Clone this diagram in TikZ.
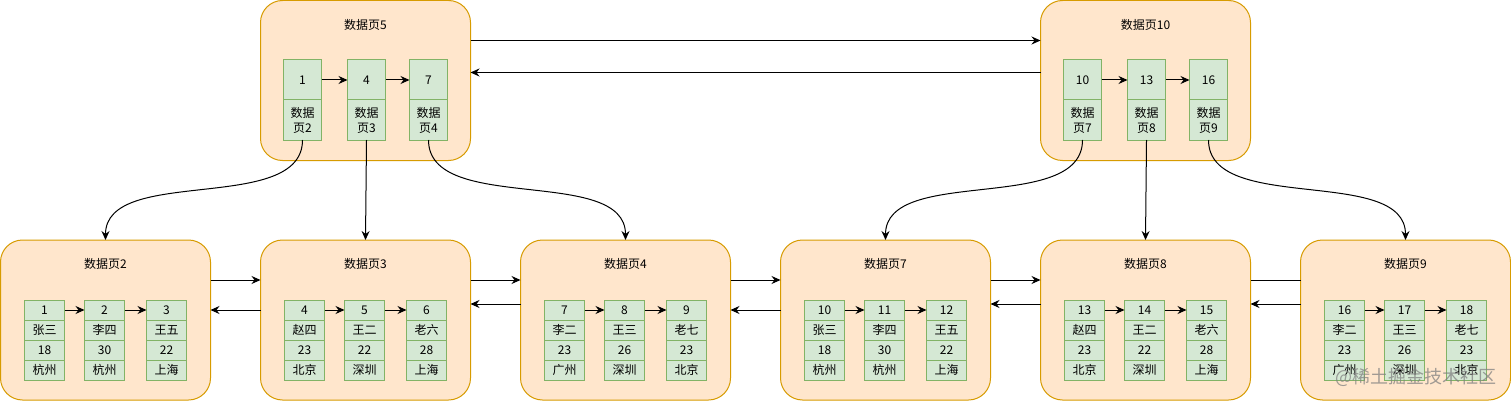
\documentclass[tikz,border=0pt]{standalone}
\usepackage{fontspec}
\setmainfont{Noto Sans CJK SC}
\usetikzlibrary{arrows.meta}
\definecolor{pagefill}{HTML}{FFE6CC}
\definecolor{pagedraw}{HTML}{D79B00}
\definecolor{cellfill}{HTML}{D5E8D4}
\definecolor{celldraw}{HTML}{82B366}
\tikzset{
  pagebox/.style={draw=pagedraw, fill=pagefill, line width=1pt, rounded corners=22pt,
    minimum width=210pt, minimum height=160pt, inner sep=0pt, outer sep=0pt, anchor=north west},
  bcellbox/.style={draw=celldraw, fill=cellfill, line width=1pt, minimum width=40pt,
    minimum height=20pt, inner sep=0pt, outer sep=0pt, anchor=north west,
    font=\fontsize{12}{14}\selectfont},
  tcellbox/.style={bcellbox, minimum width=38pt, minimum height=40pt, align=center,
    font=\fontsize{12}{15}\selectfont},
  titlebox/.style={font=\fontsize{12}{14}\selectfont, inner sep=0pt},
  arr/.style={draw=black, line width=1pt, -{Stealth[length=9pt,width=8pt,inset=3pt]}},
  plainline/.style={draw=black, line width=1pt},
  markbox/.style={font=\fontsize{18}{20}\selectfont, text=black!50, opacity=0.75, inner sep=0pt},
}
\newcommand\mkbcell[6]{%
  \node[bcellbox] (#1a) at (#2,300) {#3};
  \node[bcellbox] (#1b) at (#2,320) {#4};
  \node[bcellbox] (#1c) at (#2,340) {#5};
  \node[bcellbox] (#1d) at (#2,360) {#6};
}
\newcommand\mktcell[4]{%
  \node[tcellbox] (#1a) at (#2,60) {#3};
  \node[tcellbox] (#1b) at (#2,100) {数据\\页#4};
}
\begin{document}
\begin{tikzpicture}[x=1pt,y=-1pt]
\useasboundingbox (0,0) rectangle (1511,401);
% pages
\node[pagebox] (p5) at (260.5,0.5) {};
\node[pagebox] (p10) at (1040.5,0.5) {};
\node[pagebox] (p2) at (0.5,240) {};
\node[pagebox] (p3) at (260.5,240) {};
\node[pagebox] (p4) at (520.5,240) {};
\node[pagebox] (p7) at (780.5,240) {};
\node[pagebox] (p8) at (1040.5,240) {};
\node[pagebox] (p9) at (1300.5,240) {};
% titles
\node[titlebox] (t5) at (365.5,25) {数据页5};
\node[titlebox] (t10) at (1145.5,25) {数据页10};
\node[titlebox] (t2) at (105.5,264) {数据页2};
\node[titlebox] (t3) at (365.5,264) {数据页3};
\node[titlebox] (t4) at (625.5,264) {数据页4};
\node[titlebox] (t7) at (885.5,264) {数据页7};
\node[titlebox] (t8) at (1145.5,264) {数据页8};
\node[titlebox] (t9) at (1405.5,264) {数据页9};
% top cells
\mktcell{u1}{283.5}{1}{2}
\mktcell{u2}{347.5}{4}{3}
\mktcell{u3}{409.5}{7}{4}
\mktcell{v1}{1063.5}{10}{7}
\mktcell{v2}{1127.5}{13}{8}
\mktcell{v3}{1189.5}{16}{9}
% bottom cells
\mkbcell{b1}{24.5}{1}{张三}{18}{杭州}
\mkbcell{b2}{84.5}{2}{李四}{30}{杭州}
\mkbcell{b3}{146.5}{3}{王五}{22}{上海}
\mkbcell{b4}{284.5}{4}{赵四}{23}{北京}
\mkbcell{b5}{344.5}{5}{王二}{22}{深圳}
\mkbcell{b6}{406.5}{6}{老六}{28}{上海}
\mkbcell{b7}{544.5}{7}{李二}{23}{广州}
\mkbcell{b8}{604.5}{8}{王三}{26}{深圳}
\mkbcell{b9}{666.5}{9}{老七}{23}{北京}
\mkbcell{b10}{804.5}{10}{张三}{18}{杭州}
\mkbcell{b11}{864.5}{11}{李四}{30}{杭州}
\mkbcell{b12}{926.5}{12}{王五}{22}{上海}
\mkbcell{b13}{1064.5}{13}{赵四}{23}{北京}
\mkbcell{b14}{1124.5}{14}{王二}{22}{深圳}
\mkbcell{b15}{1186.5}{15}{老六}{28}{上海}
\mkbcell{b16}{1324.5}{16}{李二}{23}{广州}
\mkbcell{b17}{1384.5}{17}{王三}{26}{深圳}
\mkbcell{b18}{1446.5}{18}{老七}{23}{北京}
% key arrows inside pages
\draw[arr] (u1a.east) -- (u2a.west);
\draw[arr] (u2a.east) -- (u3a.west);
\draw[arr] (v1a.east) -- (v2a.west);
\draw[arr] (v2a.east) -- (v3a.west);
\draw[arr] (b1a.east) -- (b2a.west);
\draw[arr] (b2a.east) -- (b3a.west);
\draw[arr] (b4a.east) -- (b5a.west);
\draw[arr] (b5a.east) -- (b6a.west);
\draw[arr] (b7a.east) -- (b8a.west);
\draw[arr] (b8a.east) -- (b9a.west);
\draw[arr] (b10a.east) -- (b11a.west);
\draw[arr] (b11a.east) -- (b12a.west);
\draw[arr] (b13a.east) -- (b14a.west);
\draw[arr] (b14a.east) -- (b15a.west);
\draw[arr] (b16a.east) -- (b17a.west);
\draw[arr] (b17a.east) -- (b18a.west);
% top page links
\draw[arr] ([yshift=-40pt]p5.north east) -- ([yshift=-40pt]p10.north west);
\draw[arr] ([yshift=-72pt]p10.north west) -- ([yshift=-72pt]p5.north east);
% bottom page links
\draw[arr] ([yshift=-40pt]p2.north east) -- ([yshift=-40pt]p3.north west);
\draw[arr] ([yshift=-70pt]p3.north west) -- ([yshift=-70pt]p2.north east);
\draw[arr] ([yshift=-40pt]p3.north east) -- ([yshift=-40pt]p4.north west);
\draw[arr] ([yshift=-64pt]p4.north west) -- ([yshift=-64pt]p3.north east);
\draw[arr] ([yshift=-40pt]p4.north east) -- ([yshift=-40pt]p7.north west);
\draw[arr] ([yshift=-70pt]p7.north west) -- ([yshift=-70pt]p4.north east);
\draw[arr] ([yshift=-40pt]p7.north east) -- ([yshift=-40pt]p8.north west);
\draw[arr] ([yshift=-64pt]p8.north west) -- ([yshift=-64pt]p7.north east);
\draw[plainline] ([yshift=-40pt]p9.north west) -- ([yshift=-40pt]p8.north east);
\draw[arr] ([yshift=-64pt]p9.north west) -- ([yshift=-64pt]p8.north east);
% tree links
\draw[arr] (u1b.south) .. controls +(0,75) and +(0,-75) .. (p2.north);
\draw[arr] (u2b.south) -- (p3.north);
\draw[arr] (u3b.south) .. controls +(0,75) and +(0,-75) .. (p4.north);
\draw[arr] (v1b.south) .. controls +(0,75) and +(0,-75) .. (p7.north);
\draw[arr] (v2b.south) -- (p8.north);
\draw[arr] (v3b.south) .. controls +(0,75) and +(0,-75) .. (p9.north);
% watermark
\node[markbox] (wm) at (1416,377) {@稀土掘金技术社区};
\end{tikzpicture}
\end{document}
